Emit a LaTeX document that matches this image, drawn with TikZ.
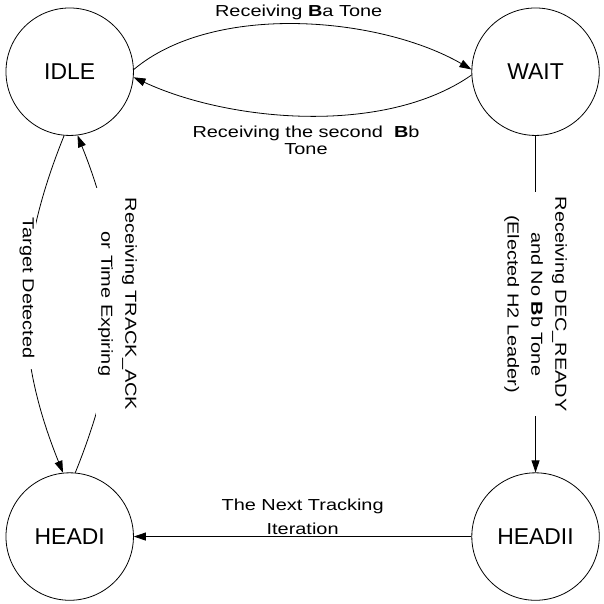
\documentclass[tikz,border=0pt]{standalone}
\usepackage{fontspec}
\setmainfont{Liberation Sans}
\newfontfamily\lblfont[FakeStretch=1.25]{Liberation Sans}
\usetikzlibrary{matrix,arrows.meta}

\tikzset{
  state/.style={circle,draw,line width=0.8pt,minimum size=128pt,inner sep=0pt,
    font=\fontsize{23}{27}\selectfont},
  lbl/.style={font=\lblfont\fontsize{16}{24}\selectfont,align=center,inner sep=2pt},
  lbltight/.style={lbl,font=\lblfont\fontsize{16}{17}\selectfont},
}

\begin{document}
\begin{tikzpicture}[>={Triangle[length=12pt,width=8pt]},line width=0.8pt]
\matrix(m)[matrix of nodes, nodes={state},
column sep=339pt, row sep=338pt]
{
IDLE & WAIT \\
HEADI & HEADII \\};
\useasboundingbox ([shift={(-70pt,72pt)}]m-1-1.center) rectangle ([shift={(531pt,-532pt)}]m-1-1.center);
\path[->](m-1-1.2) edge[out=40,in=150,looseness=0.8] node[lbl,above=2pt]{Receiving \textbf{B}a Tone} (m-1-2.178);
\path[->](m-1-2.183) edge[out=215,in=-25,looseness=0.8] node[lbltight,below=8pt]{Receiving the second \ \textbf{B}b\\Tone} (m-1-1.-5);
\path[->](m-1-1.265) edge[out=248,in=112] node[lbl,pos=0.45,fill=white,inner xsep=11pt,rotate=-90]{Target Detected} (m-2-1.96);
\path[->](m-2-1.85) edge[out=68,in=-68] node[lbl,fill=white,inner xsep=10pt,xshift=4pt,rotate=-90]{Receiving TRACK\_ACK\\or Time Expiring} (m-1-1.-83);
\path[->](m-1-2) edge node[lbl,fill=white,inner xsep=5pt,rotate=-90]{Receiving DEC\_READY\\and No \textbf{B}b Tone\\(Elected H2 Leader)} (m-2-2);
\path[->](m-2-2) edge node[lbl,above=0pt]{The Next Tracking\\Iteration} (m-2-1);
\end{tikzpicture}
\end{document}
